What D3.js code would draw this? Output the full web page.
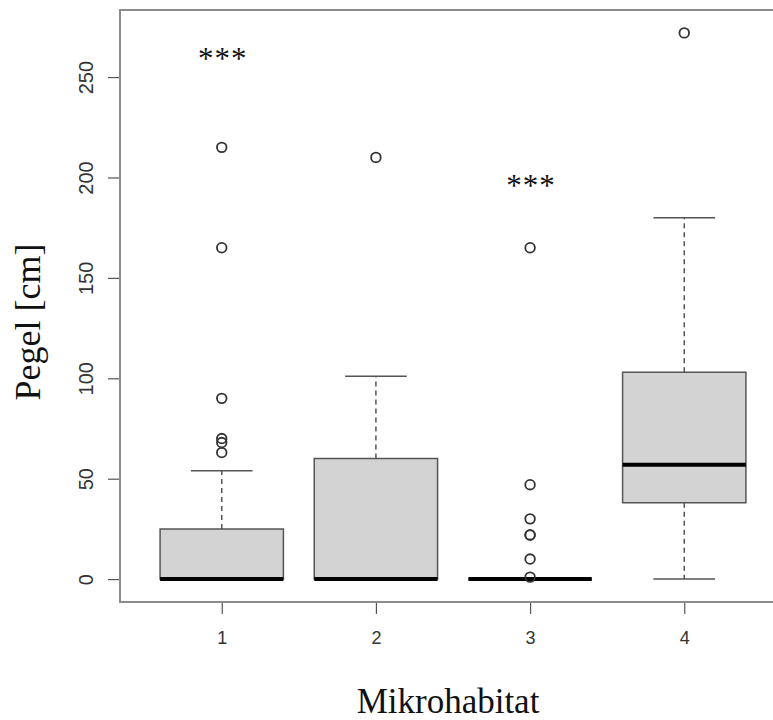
<!DOCTYPE html>
<html>
<head>
<meta charset="utf-8">
<script src="https://cdn.jsdelivr.net/npm/d3@7"></script>
<style>
  body { margin: 0; background: #fff; }
  .tick text { fill: #333; font-family: "Liberation Sans", Arial, sans-serif; }
  .title-label { font-family: "Liberation Serif", "Times New Roman", serif; fill: #111; }
</style>
</head>
<body>
<svg width="773" height="720"></svg>
<script>
// data
const groups = [1, 2, 3, 4];
const lowWhisker = [0, 0, 0, 0];
const q1 = [0, 0, 0, 38];
const medians = [0, 0, 0, 57];
const q3 = [25, 60, 0, 103];
const highWhisker = [54, 101, 0, 180];
const outliers = [
  [63, 68, 70, 90, 165, 215],
  [210],
  [1, 10, 22, 22, 30, 47, 165],
  [272],
];
const yTicks = [0, 50, 100, 150, 200, 250];
const starGroups = [1, 3];
const starValues = [260, 197];
const labelAxisX = "Mikrohabitat";
const labelAxisY = "Pegel [cm]";

const svg = d3.select("svg");
const frame = { left: 120, right: 786, top: 10, bottom: 602 };

const x = d3.scaleLinear().domain([0.34, 4.66]).range([frame.left, frame.right]);
const y = d3.scaleLinear().domain([-11.4, 283.4]).range([frame.bottom, frame.top]);

const boxWidth = (x(2) - x(1)) * 0.8;
const capWidth = boxWidth / 2;

// axes
const yAxis = d3.axisLeft(y).tickValues(yTicks).tickFormat(d3.format("d")).tickSize(12);
const gy = svg.append("g").attr("transform", `translate(${frame.left},0)`).call(yAxis);
gy.select(".domain").remove();
gy.selectAll(".tick line").attr("stroke", "#555").attr("stroke-width", 1.2);
gy.selectAll(".tick text")
  .attr("transform", "rotate(-90)")
  .attr("x", 0)
  .attr("y", -27)
  .attr("dy", 0)
  .attr("text-anchor", "middle")
  .style("font-size", "20px");

const xAxis = d3.axisBottom(x).tickValues(groups).tickFormat(d3.format("d")).tickSize(12).tickPadding(17);
const gx = svg.append("g").attr("transform", `translate(0,${frame.bottom})`).call(xAxis);
gx.select(".domain").remove();
gx.selectAll(".tick line").attr("stroke", "#555").attr("stroke-width", 1.2);
gx.selectAll(".tick text").style("font-size", "18px");

// plot frame
svg.append("rect")
  .attr("x", frame.left)
  .attr("y", frame.top)
  .attr("width", frame.right - frame.left)
  .attr("height", frame.bottom - frame.top)
  .attr("fill", "none")
  .attr("stroke", "#8c8c8c")
  .attr("stroke-width", 2);

// boxes
const g = svg.append("g");
groups.forEach((grp, i) => {
  const cx = x(grp);
  const stroke = "#555";
  // whiskers
  [[q3[i], highWhisker[i]], [q1[i], lowWhisker[i]]].forEach(([a, b]) => {
    g.append("line")
      .attr("x1", cx).attr("x2", cx)
      .attr("y1", y(a)).attr("y2", y(b))
      .attr("stroke", stroke)
      .attr("stroke-width", 1.5)
      .attr("stroke-dasharray", "5,4");
    g.append("line")
      .attr("x1", cx - capWidth / 2).attr("x2", cx + capWidth / 2)
      .attr("y1", y(b)).attr("y2", y(b))
      .attr("stroke", stroke)
      .attr("stroke-width", 1.5);
  });
  // box
  const p = d3.path();
  p.rect(cx - boxWidth / 2, y(q3[i]), boxWidth, y(q1[i]) - y(q3[i]));
  g.append("path")
    .attr("d", p.toString())
    .attr("fill", "#d3d3d3")
    .attr("stroke", stroke)
    .attr("stroke-width", 1.5);
  // median
  g.append("line")
    .attr("x1", cx - boxWidth / 2).attr("x2", cx + boxWidth / 2)
    .attr("y1", y(medians[i])).attr("y2", y(medians[i]))
    .attr("stroke", "#000")
    .attr("stroke-width", 4);
  // outliers
  g.selectAll(null)
    .data(outliers[i])
    .enter()
    .append("circle")
    .attr("cx", cx)
    .attr("cy", (d) => y(d))
    .attr("r", 4.8)
    .attr("fill", "none")
    .attr("stroke", "#333")
    .attr("stroke-width", 1.8);
});

// significance stars
starGroups.forEach((grp, i) => {
  svg.append("text")
    .attr("class", "title-label")
    .attr("x", x(grp) + 1)
    .attr("y", y(starValues[i]) + 12)
    .attr("text-anchor", "middle")
    .style("font-size", "31px")
    .style("letter-spacing", "1px")
    .text("***");
});

// axis titles
svg.append("text")
  .attr("class", "title-label")
  .attr("x", (frame.left + frame.right) / 2 - 5)
  .attr("y", 713)
  .attr("text-anchor", "middle")
  .style("font-size", "35px")
  .text(labelAxisX);

svg.append("text")
  .attr("class", "title-label")
  .attr("transform", `translate(40,${322}) rotate(-90)`)
  .attr("text-anchor", "middle")
  .style("font-size", "36px")
  .text(labelAxisY);
</script>
</body>
</html>
